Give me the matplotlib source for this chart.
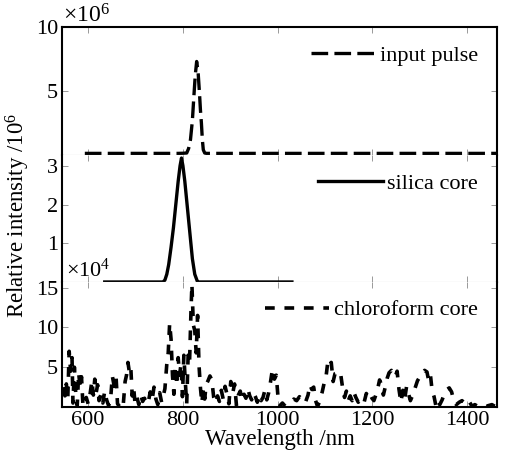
import numpy as np
import matplotlib
matplotlib.use("Agg")
import matplotlib.pyplot as plt

plt.rcParams['font.family'] = ['Liberation Serif', 'DejaVu Serif']
plt.rcParams['mathtext.fontset'] = 'custom'
plt.rcParams['mathtext.rm'] = 'Liberation Serif'
plt.rcParams['mathtext.it'] = 'Liberation Serif:italic'
plt.rcParams['lines.scale_dashes'] = False

# input pulse (x10^6)
pulse_wl = [593, 790, 800, 808, 812, 816, 820, 823, 826, 829, 832, 835, 837, 839, 841, 843, 846, 850, 1463]
pulse_val = [0.12, 0.12, 0.13, 0.15, 0.5, 1.2, 2.7, 4.5, 6.2, 7.3, 6.5, 4.8, 3.5, 2.5, 1.2, 0.4, 0.15, 0.12, 0.12]

# silica core (x10^6)
silica_wl = [635, 758, 762, 766, 770, 775, 780, 785, 790, 794, 797, 800, 804, 808, 812, 816, 820, 825, 831, 835, 1030]
silica_val = [0.0, 0.0, 0.05, 0.2, 0.45, 0.9, 1.4, 2.0, 2.6, 3.0, 3.2, 3.0, 2.6, 2.1, 1.6, 1.1, 0.6, 0.2, 0.0, 0.0, 0.0]

# chloroform core (x10^4)
chl_wl = [548, 551, 554, 557, 560, 563, 566, 568, 571, 574, 577, 580, 583, 586, 589, 592, 596, 600,
          604, 608, 611, 614, 617, 620, 623, 627, 631, 635, 639, 643, 647, 651, 655, 659, 662, 666,
          670, 674, 678, 681, 684, 687, 690, 693, 696, 699, 703, 707, 711, 715, 719, 723, 727, 731,
          735, 739, 743, 747, 751, 755, 759, 762, 766, 769, 772, 775, 778, 781, 784, 787, 790, 793,
          796, 799, 802, 805, 808, 811, 814, 817, 819, 822, 825, 828, 831, 834, 837, 840, 843, 846,
          849, 853, 857, 861, 865, 869, 873, 877, 881, 885, 889, 893, 897, 901, 905, 909, 913, 917,
          921, 925, 929, 933, 937, 941, 945, 949, 953, 957, 961, 965, 969, 973, 977, 981, 985, 989,
          993, 997, 1001, 1005, 1010, 1016, 1022, 1028, 1034, 1040, 1046, 1052, 1058, 1064, 1068,
          1072, 1076, 1080, 1084, 1088, 1094, 1098, 1102, 1106, 1109, 1113, 1117, 1121, 1125, 1129,
          1133, 1137, 1141, 1145, 1149, 1153, 1157, 1161, 1165, 1170, 1176, 1182, 1187, 1191, 1195,
          1199, 1203, 1207, 1211, 1215, 1219, 1223, 1227, 1231, 1235, 1240, 1244, 1248, 1252, 1256,
          1260, 1264, 1268, 1272, 1276, 1280, 1285, 1290, 1295, 1300, 1305, 1310, 1315, 1318, 1322,
          1326, 1330, 1334, 1338, 1342, 1347, 1352, 1357, 1362, 1367, 1372, 1377, 1383, 1389, 1394,
          1399, 1405, 1410, 1416, 1422, 1428, 1434, 1440, 1446, 1452, 1458]
chl_val = [2.5, 1.4, 2.9, 1.0, 7.0, 4.5, 6.2, 0.5, 5.0, 1.5, 0.2, 4.3, 2.5, 3.8, 0.3, 0.1, 1.2, 0.4,
           1.6, 3.3, 1.5, 3.5, 1.8, 2.8, 0.8, 1.6, 0.5, 2.0, 0.9, 0.2, 0.6, 3.9, 2.6, 3.7, 0.4, 0.1,
           0.6, 0.2, 3.2, 4.0, 5.6, 4.4, 5.0, 1.4, 2.5, 0.4, 1.2, 0.3, 1.5, 0.7, 1.1, 0.4, 0.6, 1.9,
           0.9, 2.5, 1.0, 0.3, 1.8, 0.6, 1.5, 2.3, 5.4, 6.8, 10.5, 8.5, 4.0, 1.6, 5.2, 2.7, 6.2, 4.0,
           5.4, 1.3, 6.5, 3.2, 0.4, 6.5, 5.6, 12.0, 15.4, 10.3, 9.6, 6.8, 11.5, 5.2, 2.4, 0.5, 2.3, 1.0,
           2.8, 3.3, 3.9, 3.4, 1.2, 0.5, 1.4, 0.7, 2.1, 1.0, 2.6, 1.6, 0.4, 3.2, 1.7, 2.9, 0.2, 1.5,
           2.0, 0.8, 1.6, 1.1, 2.3, 1.4, 0.9, 1.8, 1.3, 0.6, 1.5, 0.8, 1.2, 2.1, 0.9, 1.8, 3.2, 4.8,
           3.5, 4.0, 1.0, 0.2, 0.5, 0.1, 0.4, 0.6, 1.0, 0.8, 1.3, 0.9, 0.5, 1.5, 2.8,
           2.2, 2.5, 0.8, 0.1, 0.6, 1.9, 3.0, 3.8, 5.8, 5.3, 5.6, 3.2, 4.2, 4.3, 3.9,
           4.1, 2.4, 1.2, 2.0, 0.8, 1.4, 0.8, 1.8, 1.2, 0.6, 1.0, 0.5, 1.7, 1.2, 1.6,
           1.1, 0.8, 1.5, 2.3, 3.4, 2.8, 1.5, 2.5, 3.6, 4.3, 4.6, 4.2, 3.8, 4.5, 2.2,
           0.6, 2.1, 1.0, 2.6, 1.7, 0.8, 1.5, 2.4, 3.3, 3.8, 4.2, 4.6, 4.4, 3.5, 4.2,
           2.0, 1.3, 0.1, 0.8, 0.3, 0.9, 1.7, 2.2, 2.4, 1.9, 0.7, 0.3, 0.6, 0.8, 0.5,
           0.2, 0.6, 0.1, 0.3, 0.1, 0.2, 0.3, 0.1, 0.2, 0.3, 0.1]

xticks = [600, 800, 1000, 1200, 1400]
fs = 16

fig = plt.figure(figsize=(5.13, 4.53), dpi=100)
left, width = 0.121, 0.848
ax1 = fig.add_axes([left, 0.658, width, 0.2826])
ax2 = fig.add_axes([left, 0.3775, width, 0.2805])
ax3 = fig.add_axes([left, 0.1015, width, 0.276])

ax1.plot(pulse_wl, pulse_val, color='black', lw=2.4, dashes=(12, 4.5), label='input pulse')
ax2.plot(silica_wl, silica_val, color='black', lw=2.4, label='silica core')
ax3.plot(chl_wl, chl_val, color='black', lw=2.6, dashes=(7, 7), label='chloroform core')

ax1.set_ylim(0, 10)
ax1.set_yticks([5, 10])
ax2.set_ylim(0, 3.28)
ax2.set_yticks([1, 2, 3])
ax3.set_ylim(0, 15.7)
ax3.set_yticks([5, 10, 15])

for ax in (ax1, ax2, ax3):
    ax.set_xlim(545, 1463)
    ax.set_xticks(xticks)
    ax.tick_params(direction='in', length=4, width=0.7, color='#999999',
                   top=True, right=True, labelsize=fs, pad=3)
    for s in ax.spines.values():
        s.set_linewidth(1.5)
        s.set_color('black')
    ax.legend(loc='center right', bbox_to_anchor=(0.981, 0.775), frameon=False,
              fontsize=fs, handlelength=2.9, handletextpad=0.2, borderpad=0)

ax1.tick_params(labelbottom=False)
ax2.tick_params(labelbottom=False)
ax1.spines['bottom'].set_color('#aaaaaa')
ax1.spines['bottom'].set_linewidth(0.8)
ax2.spines['top'].set_visible(False)
ax2.spines['bottom'].set_color('#aaaaaa')
ax2.spines['bottom'].set_linewidth(0.8)
ax3.spines['top'].set_visible(False)

ax3.set_xlabel('Wavelength /nm', fontsize=fs + 0.5, labelpad=-1)
fig.text(18 / 513, 0.525, 'Relative intensity /10$^6$', rotation=90,
         ha='center', va='center', fontsize=fs + 0.5)
fig.text(63 / 513, (453 - 16) / 453, r'$\times10^6$', ha='left', va='center', fontsize=fs + 1)
fig.text(66 / 513, (453 - 270) / 453, r'$\times10^4$', ha='left', va='center', fontsize=fs)

fig.savefig('out.png', dpi=100)
